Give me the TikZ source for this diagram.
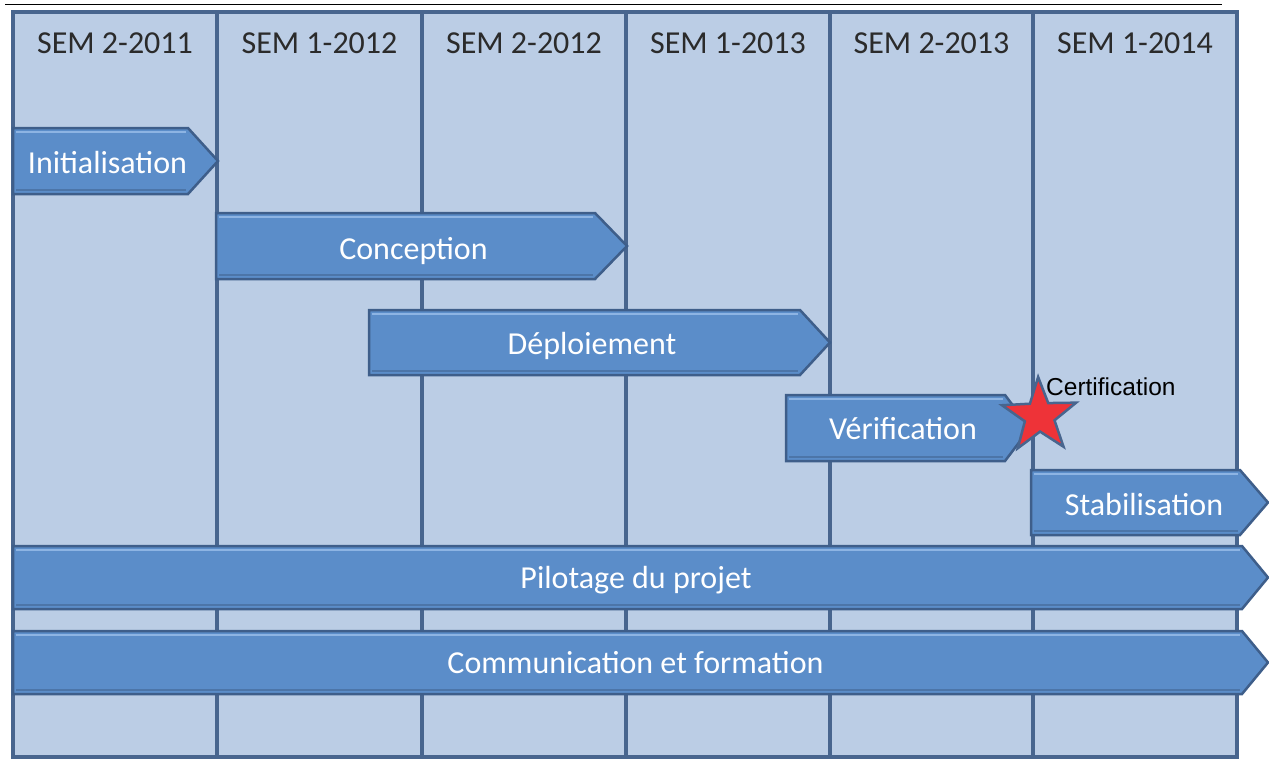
\documentclass[tikz,border=0pt]{standalone}
\usepackage{fontspec}
\setmainfont{Carlito}
\newfontfamily\arialf{Liberation Sans}
\usetikzlibrary{shapes.geometric}
\definecolor{colfill}{HTML}{BBCDE5}
\definecolor{coledge}{HTML}{48658E}
\definecolor{barfill}{HTML}{5B8DC9}
\definecolor{baredge}{HTML}{3E5E8A}
\definecolor{barlight}{HTML}{8DB4E3}
\definecolor{bardark}{HTML}{4C75A8}
\definecolor{headtext}{HTML}{2B2B2B}
\definecolor{starred}{HTML}{EE3338}
\tikzset{
  colbox/.style={fill=colfill, draw=coledge, line width=4.5pt},
  phase/.style={fill=barfill, draw=baredge, line width=2.5pt, line join=miter},
  phaselight/.style={draw=barlight, line width=2pt},
  phasedark/.style={draw=bardark, line width=2pt},
  phasetext/.style={text=white, font=\fontsize{32}{37}\selectfont, inner sep=0pt},
  headtext/.style={text=headtext, font=\fontsize{32}{38}\selectfont, inner sep=0pt},
}
\newcommand\phasebar[9]{%
  \draw[phase] (#2,#3) -- (#4,#3) -- (#5,{(#3+#6)/2}) -- (#4,#6) -- (#2,#6) -- cycle;
  \draw[phaselight] (#2+3,#3+4) -- (#4-2,#3+4);
  \draw[phasedark] (#2+3,#6-4) -- (#4-2,#6-4);
  \node[phasetext, anchor=base] (#1) at (#7,#8) {#9};
}
\begin{document}
\begin{tikzpicture}[x=1pt,y=-1pt]
\useasboundingbox (0,0) rectangle (1269,758);
\fill[white] (0,0) rectangle (1269,758);
% top rule
\draw[black, line width=1.5pt] (5,4.5) -- (1222,4.5);
% columns
\foreach \xa/\xb in {13/217,217/422,422/626,626/830,830/1033,1033/1237}
  \draw[colbox] (\xa,12) rectangle (\xb,757);
% headers
\node[headtext, anchor=base] (h1) at (115,53) {SEM 2-2011};
\node[headtext, anchor=base] (h2) at (319.5,53) {SEM 1-2012};
\node[headtext, anchor=base] (h3) at (524,53) {SEM 2-2012};
\node[headtext, anchor=base] (h4) at (728,53) {SEM 1-2013};
\node[headtext, anchor=base] (h5) at (931.5,53) {SEM 2-2013};
\node[headtext, anchor=base] (h6) at (1135,53) {SEM 1-2014};
% phases
\phasebar{init}{13}{128}{188}{218}{194}{107.5}{173}{Initialisation}
\phasebar{conc}{216}{213}{595}{627}{279}{413.5}{259}{Conception}
\phasebar{depl}{369}{310}{800}{830}{375}{592}{354}{Déploiement}
\phasebar{verif}{786}{395}{1005}{1030}{461}{903}{439}{Vérification}
\phasebar{stab}{1031}{470}{1240}{1268}{535}{1144}{515}{Stabilisation}
\phasebar{pilot}{13}{546}{1242}{1268}{609}{636}{588}{Pilotage du projet}
\phasebar{comm}{13}{631}{1242}{1268}{694}{635.5}{673}{Communication et formation}
% milestone
\node[star, star points=5, star point ratio=2.5, minimum size=78pt, inner sep=0pt,
      fill=starred, draw=coledge, line width=2.5pt, shape border rotate=2] (star) at (1039.5,416) {};
\node[anchor=west, inner sep=0pt, text=black, font=\arialf\fontsize{24.5}{28}\selectfont] (cert) at (1046,387) {Certification};
\end{tikzpicture}
\end{document}
